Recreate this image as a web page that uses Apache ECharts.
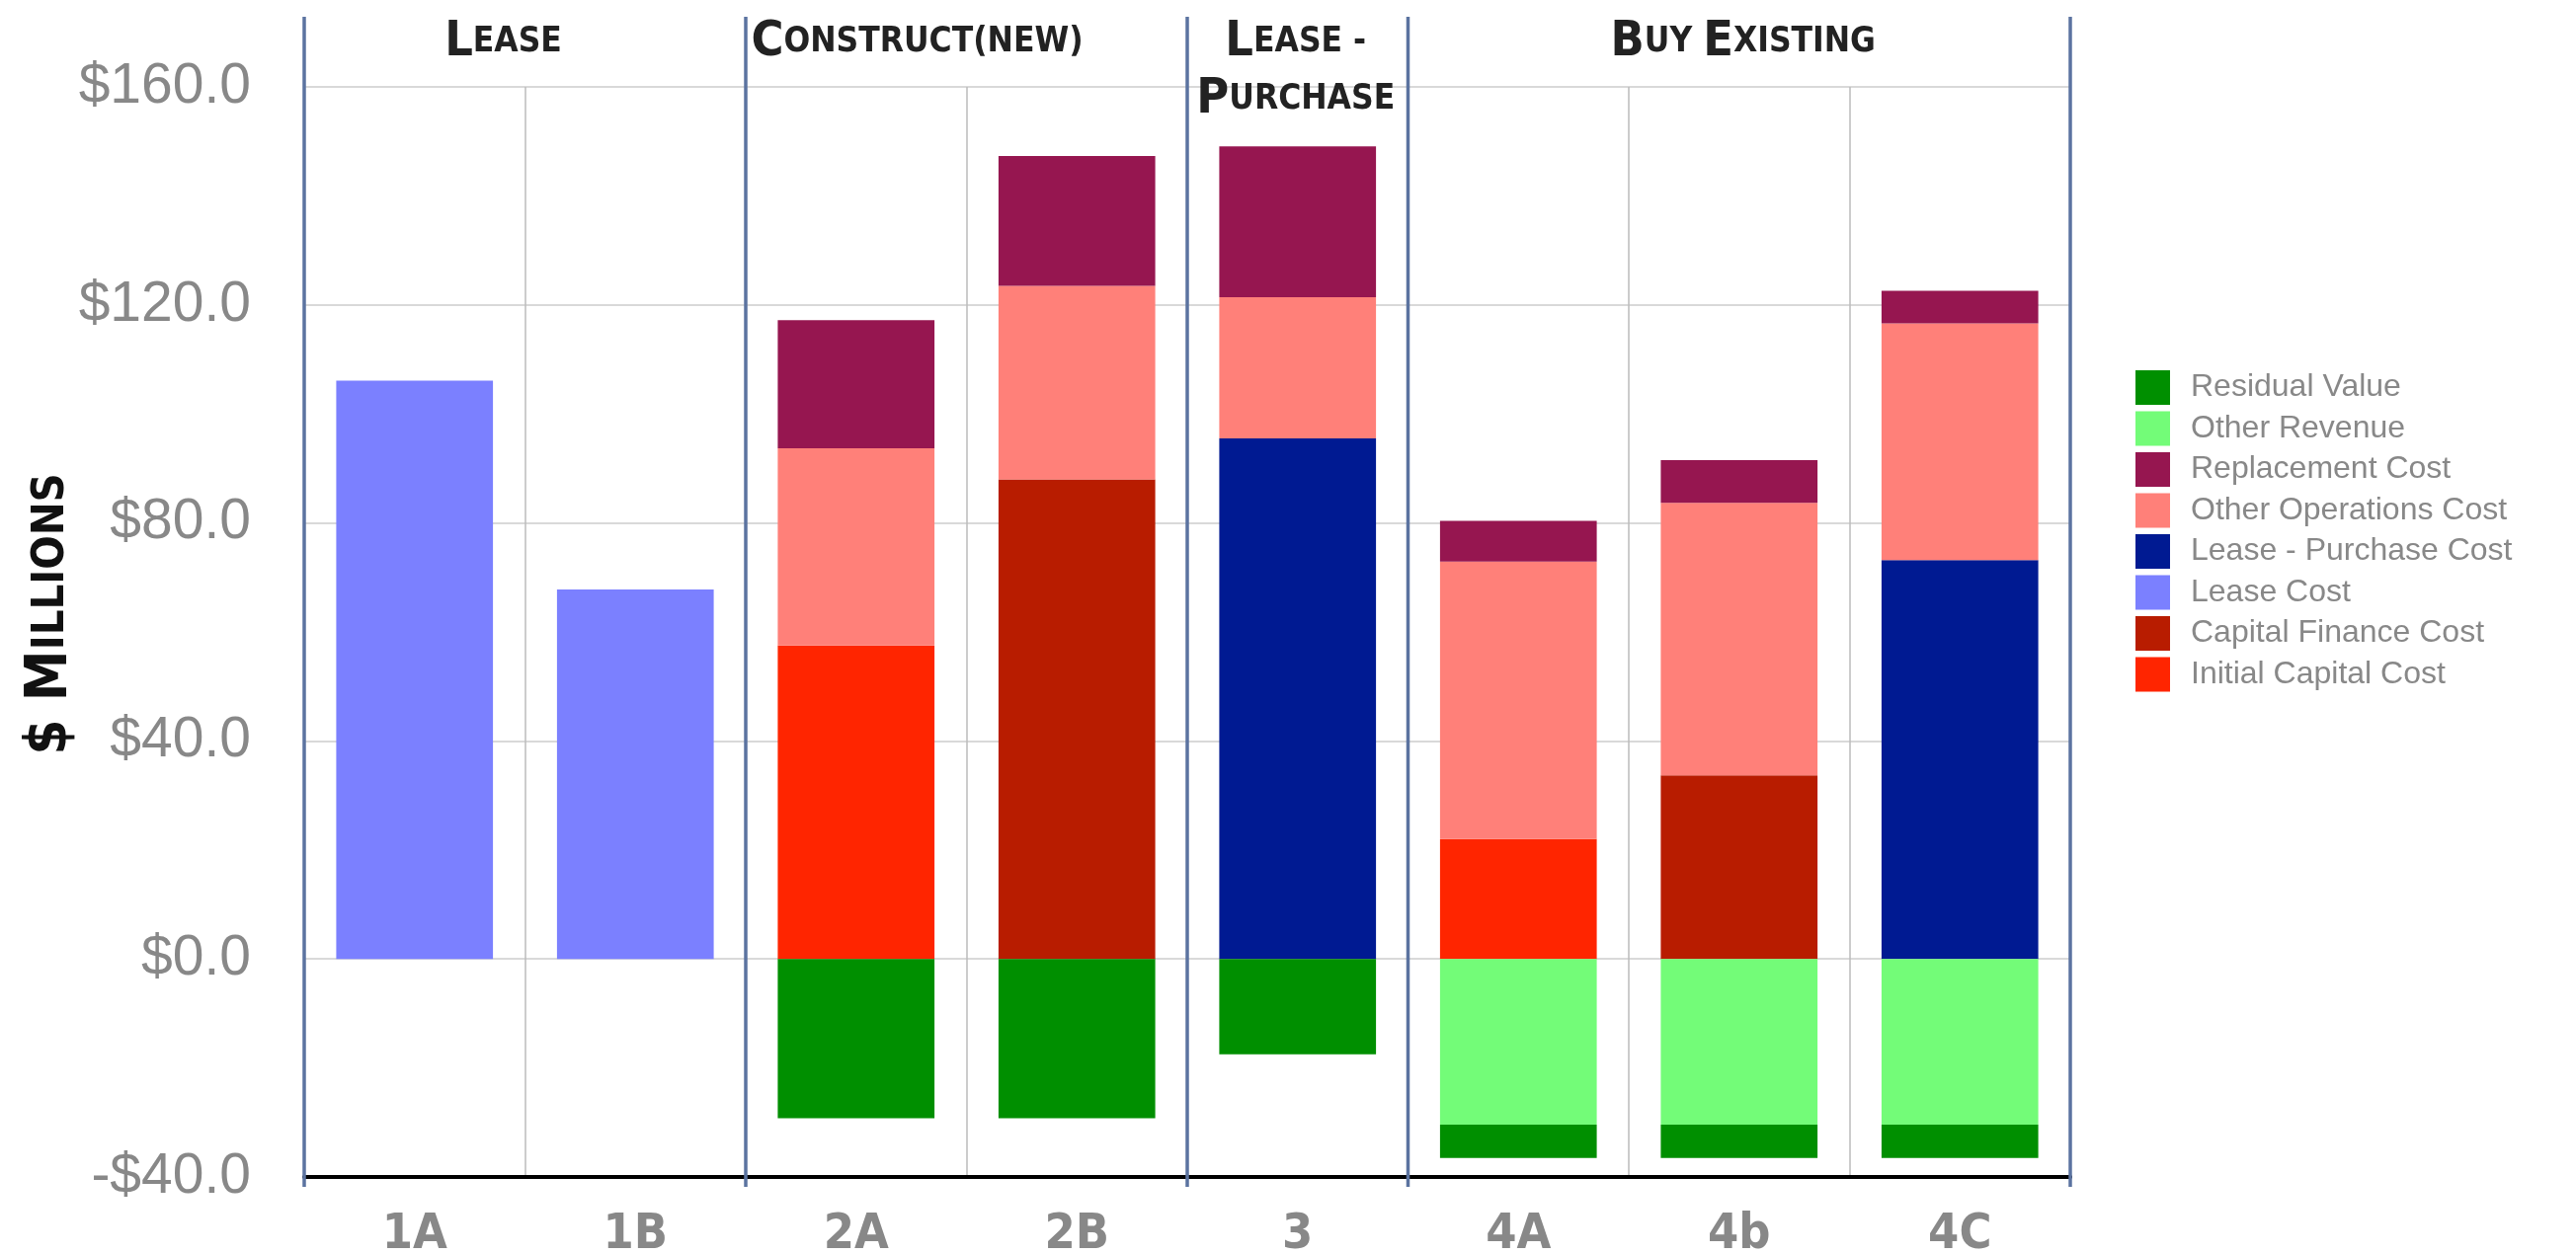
<!DOCTYPE html>
<html>
<head>
<meta charset="utf-8">
<script src="https://cdn.jsdelivr.net/npm/echarts@6/dist/echarts.min.js"></script>
<style>
  html, body { margin: 0; padding: 0; background: #fff; }
  #chart { width: 2608px; height: 1270px; }
</style>
</head>
<body>
<div id="chart"></div>
<script>
// categories
const categories = ['1A', '1B', '2A', '2B', '3', '4A', '4b', '4C']

// series values ($ millions)
const initialCapital = [0, 0, 57.5, 0, 0, 22.0, 0, 0]
const capitalFinance = [0, 0, 0, 88.0, 0, 0, 33.7, 0]
const leaseCost = [106.1, 67.8, 0, 0, 0, 0, 0, 0]
const leasePurchase = [0, 0, 0, 0, 95.5, 0, 0, 73.2]
const otherOps = [0, 0, 36.2, 35.5, 25.9, 50.9, 50.0, 43.4]
const replacement = [0, 0, 23.5, 23.8, 27.7, 7.5, 7.8, 6.0]
const otherRevenue = [0, 0, 0, 0, 0, -30.4, -30.4, -30.4]
const residual = [0, 0, -29.2, -29.2, -17.5, -6.1, -6.1, -6.1]

// y axis range
const yMin = -40
const yMax = 160
const yStep = 40

// groups of categories (first index, last index + 1) and header text
const groupStarts = [0, 2, 4, 5]
const groupEnds = [2, 4, 5, 8]
const groupHeaders = [
  '{b|L}{s|EASE}',
  '{b|C}{s|ONSTRUCT(NEW)}',
  '{b|L}{s|EASE -}\n{b|P}{s|URCHASE}',
  '{b|B}{s|UY }{b|E}{s|XISTING}'
]
const headerShift = [-22, -50, -2, 4]
const yTitle = '{b|$ M}{s|ILLIONS}'

const narrow = "'Liberation Sans Narrow', 'DejaVu Sans Condensed', 'Liberation Sans', sans-serif"

const seriesDefs = [
  { name: 'Initial Capital Cost', data: initialCapital, color: '#FF2500' },
  { name: 'Capital Finance Cost', data: capitalFinance, color: '#B81C00' },
  { name: 'Lease Cost', data: leaseCost, color: '#7B80FF' },
  { name: 'Lease - Purchase Cost', data: leasePurchase, color: '#001A92' },
  { name: 'Other Operations Cost', data: otherOps, color: '#FF8079' },
  { name: 'Replacement Cost', data: replacement, color: '#961650' },
  { name: 'Other Revenue', data: otherRevenue, color: '#73FC78' },
  { name: 'Residual Value', data: residual, color: '#008F00' }
]

const chart = echarts.init(document.getElementById('chart'))

const option = {
  animation: false,
  backgroundColor: '#fff',
  grid: { left: 308, right: 512, top: 88, bottom: 78, outerBoundsMode: 'none' },
  legend: {
    orient: 'vertical',
    left: 2157,
    top: 370,
    itemWidth: 35,
    itemHeight: 35,
    itemGap: 6.5,
    icon: 'rect',
    data: seriesDefs.map(s => s.name).reverse(),
    textStyle: {
      fontFamily: "'Liberation Sans', Arial, sans-serif",
      fontSize: 32,
      color: '#888',
      padding: [0, 0, 0, 16]
    }
  },
  xAxis: {
    type: 'category',
    data: categories,
    axisLine: { onZero: false, lineStyle: { color: '#000', width: 4 } },
    axisTick: { show: false },
    splitLine: {
      show: true,
      interval: (i) => [1, 3, 6, 7].includes(i),
      lineStyle: { color: '#bbb', width: 1.5 }
    },
    axisLabel: {
      margin: 34,
      fontFamily: narrow,
      fontWeight: 'bold',
      fontSize: 50,
      color: '#888'
    }
  },
  yAxis: {
    type: 'value',
    min: yMin,
    max: yMax,
    interval: yStep,
    axisLine: { show: false },
    axisTick: { show: false },
    splitLine: { lineStyle: { color: '#ccc', width: 1.5 } },
    axisLabel: {
      margin: 54,
      fontFamily: "'Liberation Sans', Arial, sans-serif",
      fontSize: 57,
      color: '#888',
      formatter: v => (v < 0 ? '-$' : '$') + Math.abs(v).toFixed(1)
    }
  },
  series: seriesDefs.map(s => ({
    name: s.name,
    type: 'bar',
    stack: 'total',
    barCategoryGap: '29%',
    data: s.data,
    itemStyle: { color: s.color }
  }))
}

chart.setOption(option)

// group dividers and headers, placed through the category axis
const c0 = chart.convertToPixel({ xAxisIndex: 0 }, categories[0])
const c1 = chart.convertToPixel({ xAxisIndex: 0 }, categories[1])
const band = c1 - c0
const edge = i => c0 - band / 2 + band * i
const yBottom = chart.convertToPixel({ yAxisIndex: 0 }, yMin)

const graphics = []
const edges = [0, 2, 4, 5, 8]
edges.forEach(i => {
  graphics.push({
    type: 'line',
    z: 10,
    shape: { x1: edge(i), y1: 17, x2: edge(i), y2: yBottom + 10 },
    style: { stroke: '#5B73A0', lineWidth: 3.5 }
  })
})
groupHeaders.forEach((t, g) => {
  const cx = (edge(groupStarts[g]) + edge(groupEnds[g])) / 2 + headerShift[g]
  graphics.push({
    type: 'text',
    z: 10,
    x: cx,
    y: 14,
    style: {
      text: t,
      align: 'center',
      verticalAlign: 'top',
      fill: '#222',
      rich: {
        b: { fontFamily: narrow, fontWeight: 'bold', fontSize: 50, fill: '#222', lineHeight: 58 },
        s: { fontFamily: narrow, fontWeight: 'bold', fontSize: 35, fill: '#222', lineHeight: 58 }
      }
    }
  })
})

// y axis title
graphics.push({
  type: 'text',
  x: 52,
  y: 622,
  rotation: Math.PI / 2,
  style: {
    text: yTitle,
    align: 'center',
    verticalAlign: 'middle',
    fill: '#111',
    rich: {
      b: { fontFamily: narrow, fontWeight: 'bold', fontSize: 58, fill: '#111' },
      s: { fontFamily: narrow, fontWeight: 'bold', fontSize: 45, fill: '#111' }
    }
  }
})
chart.setOption({ graphic: graphics })
</script>
</body>
</html>
